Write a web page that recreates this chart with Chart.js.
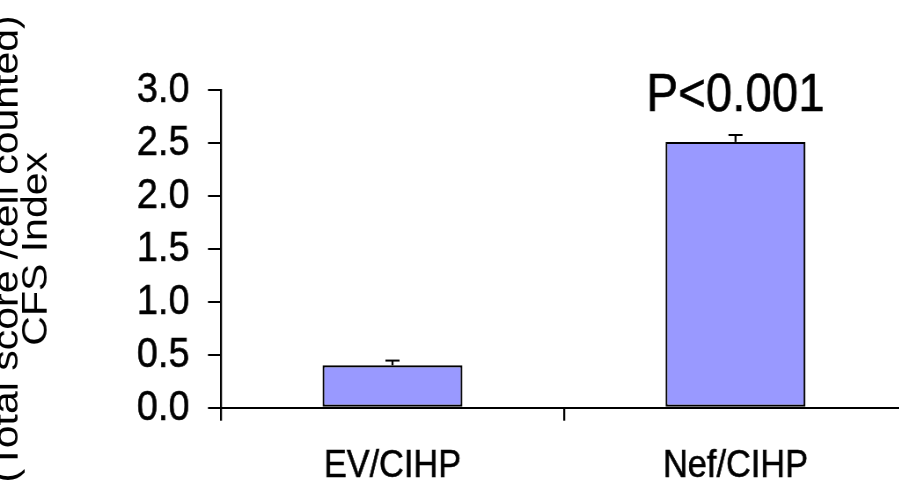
<!DOCTYPE html>
<html>
<head>
<meta charset="utf-8">
<script src="https://cdn.jsdelivr.net/npm/chart.js@4.4.1/dist/chart.umd.min.js"></script>
<style>
  html, body { margin: 0; padding: 0; background: #ffffff; overflow: hidden; width: 899px; height: 485px; }
  #wrap { position: absolute; left: 0; top: 0; transform: scaleX(0.88); transform-origin: 0 0; }
  canvas { display: block; }
</style>
</head>
<body>
<div id="wrap"><canvas id="c" width="1034" height="485"></canvas></div>
<script>
// ---- data ----
const categories = ['EV/CIHP', 'Nef/CIHP'];
const cfsIndex = [0.40, 2.51];
const cfsError = [0.045, 0.065];
const significance = ['', 'P<0.001'];
const yAxisTitle = ['(Total score /cell counted)', 'CFS Index'];
const yMin = 0, yMax = 3.0, yStep = 0.5;

const FONT = "'Liberation Sans', Arial, Helvetica, sans-serif";

const errorBarPlugin = {
  id: 'errorBars',
  afterDatasetsDraw(chart) {
    const ctx = chart.ctx;
    const meta = chart.getDatasetMeta(0);
    const yScale = chart.scales.y;
    ctx.save();
    ctx.strokeStyle = '#000';
    meta.data.forEach((bar, i) => {
      const top = yScale.getPixelForValue(cfsIndex[i] + cfsError[i]);
      ctx.lineWidth = 2.27;
      ctx.beginPath();
      ctx.moveTo(bar.x, bar.y);
      ctx.lineTo(bar.x, top);
      ctx.stroke();
      ctx.lineWidth = 2;
      ctx.beginPath();
      ctx.moveTo(bar.x - 8, top);
      ctx.lineTo(bar.x + 8, top);
      ctx.stroke();
      if (significance[i]) {
        ctx.fillStyle = '#000';
        ctx.font = '54px ' + FONT;
        ctx.textAlign = 'center';
        ctx.textBaseline = 'alphabetic';
        ctx.lineWidth = 0.6;
        ctx.fillText(significance[i], bar.x, top - 24);
        ctx.strokeText(significance[i], bar.x, top - 24);
      }
    });
    ctx.restore();
  }
};

new Chart(document.getElementById('c'), {
  type: 'bar',
  data: {
    labels: categories,
    datasets: [{
      data: cfsIndex,
      backgroundColor: '#9999FF',
      borderColor: '#000000',
      borderWidth: 2.2,
      borderSkipped: false,
      barPercentage: 0.408,
      categoryPercentage: 1.0
    }]
  },
  options: {
    responsive: false,
    animation: false,
    devicePixelRatio: 1,
    layout: { padding: { top: 90, right: 3.3, bottom: 0, left: 0 } },
    plugins: { legend: { display: false }, tooltip: { enabled: false } },
    scales: {
      x: {
        afterFit(scale) { scale.height = 77.3; },
        grid: { display: true, drawOnChartArea: false, drawTicks: true, tickLength: 13, color: '#000', lineWidth: 2.27, offset: true },
        border: { display: true, color: '#000', width: 2 },
        ticks: { color: '#000', font: { family: FONT, size: 39 }, padding: 21.9, maxRotation: 0, autoSkip: false,
                 textStrokeColor: '#000', textStrokeWidth: 0.6 }
      },
      y: {
        min: yMin, max: yMax,
        afterFit(scale) { scale.width = 251.1; },
        grid: { display: true, drawOnChartArea: false, drawTicks: true, tickLength: 14.8, color: '#000', lineWidth: 2 },
        border: { display: true, color: '#000', width: 2.27 },
        ticks: { stepSize: yStep, autoSkip: false, color: '#000', font: { family: FONT, size: 43 }, padding: 21,
                 textStrokeColor: '#000', textStrokeWidth: 0.6,
                 callback: (v) => Number(v).toFixed(1) },
        title: { display: true, text: yAxisTitle, color: '#000',
                 font: { family: FONT, size: 41, lineHeight: 0.805 }, padding: { top: -8, bottom: 0 } }
      }
    }
  },
  plugins: [errorBarPlugin]
});
</script>
</body>
</html>
